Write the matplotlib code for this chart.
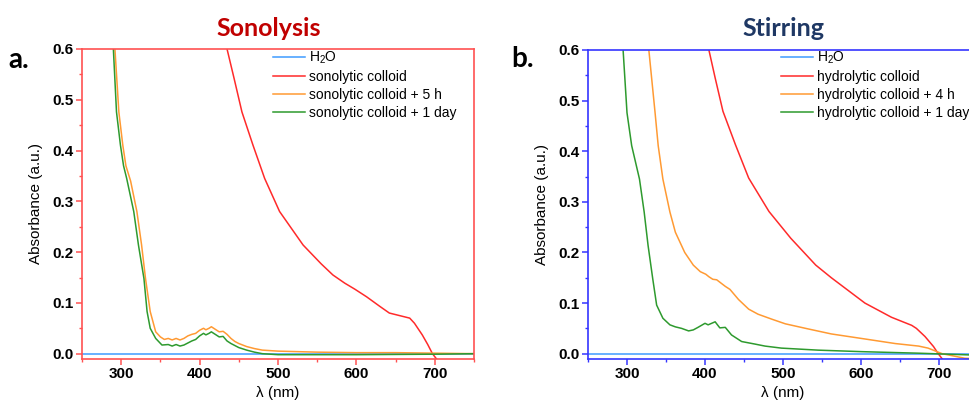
import matplotlib
matplotlib.use("Agg")
import matplotlib.pyplot as plt
from matplotlib.ticker import MultipleLocator

plt.rcParams['font.family'] = ['Liberation Sans', 'DejaVu Sans']
plt.rcParams['mathtext.fontset'] = 'custom'
plt.rcParams['mathtext.rm'] = 'Liberation Sans'

# ---- panel a: sonolysis ----
h2o_a_wl = [250, 300, 350, 400, 450, 500, 550, 600, 650, 700, 750]
h2o_a_abs = [-0.001, -0.001, -0.001, -0.001, -0.001, -0.001, -0.001, -0.001, -0.001, -0.001, -0.001]

sono_wl = [431, 435, 444, 454, 468, 483, 502, 532, 555, 570, 585, 598, 613,
           630, 642, 655, 668, 674, 684, 691, 697, 702]
sono_abs = [0.64, 0.6, 0.542, 0.476, 0.411, 0.345, 0.28, 0.214, 0.177, 0.155, 0.139, 0.127, 0.112,
            0.093, 0.08, 0.075, 0.07, 0.06, 0.037, 0.018, 0.0, -0.01]

sono5h_wl = [291, 292, 297, 302, 306, 312, 320, 326, 331, 337, 344, 350, 355,
             360, 365, 370, 375, 380, 385, 390, 395, 400, 405, 408, 412, 415, 420, 425,
             430, 435, 440, 445, 450, 460, 470, 480, 500, 550, 600, 650, 700, 750]
sono5h_abs = [0.65, 0.6, 0.476, 0.411, 0.37, 0.34, 0.28, 0.214, 0.148, 0.083, 0.043, 0.033, 0.028,
              0.03, 0.027, 0.03, 0.027, 0.03, 0.035, 0.038, 0.04, 0.046, 0.05, 0.047, 0.05, 0.053, 0.048, 0.043,
              0.044, 0.038, 0.03, 0.024, 0.02, 0.014, 0.01, 0.007, 0.005, 0.003, 0.002, 0.002, 0.001, 0.0]

sono1d_wl = [289, 290, 294, 299, 303, 307, 316, 322, 329, 333, 337, 344, 352, 360, 365,
             370, 375, 380, 390, 395, 400, 405, 408, 412, 415, 420, 425, 430, 435, 440,
             450, 460, 470, 480, 500, 600, 700, 750]
sono1d_abs = [0.65, 0.6, 0.476, 0.411, 0.37, 0.345, 0.28, 0.214, 0.148, 0.083, 0.05, 0.03, 0.017, 0.018, 0.015,
              0.018, 0.015, 0.017, 0.025, 0.028, 0.035, 0.04, 0.037, 0.04, 0.043, 0.038, 0.033, 0.034, 0.025, 0.02,
              0.012, 0.007, 0.003, 0.0, -0.002, -0.002, -0.001, 0.0]

# ---- panel b: stirring ----
h2o_b_wl = [250, 300, 350, 400, 450, 500, 550, 600, 650, 700, 750]
h2o_b_abs = [-0.001, -0.001, -0.001, -0.001, -0.001, -0.001, -0.001, -0.001, -0.001, -0.001, -0.001]

hydro_wl = [402, 405, 413, 423, 439, 456, 482, 510, 542, 562, 605, 639, 665, 671, 682, 693, 699, 704]
hydro_abs = [0.63, 0.6, 0.545, 0.479, 0.413, 0.347, 0.281, 0.228, 0.175, 0.15, 0.1, 0.072, 0.056, 0.05,
             0.034, 0.014, 0.0, -0.01]

hydro4h_wl = [326, 328, 336, 340, 346, 355, 362, 374, 385, 394, 401, 405, 410, 415, 426, 432,
              443, 456, 468, 486, 503, 532, 562, 601, 644, 674, 686, 704, 733, 750]
hydro4h_abs = [0.63, 0.6, 0.476, 0.411, 0.345, 0.28, 0.24, 0.2, 0.175, 0.162, 0.157, 0.152, 0.147, 0.146,
               0.133, 0.127, 0.107, 0.088, 0.078, 0.068, 0.059, 0.049, 0.039, 0.03, 0.02, 0.015, 0.011, 0.0,
               -0.009, -0.01]

hydro1d_wl = [293, 295, 300, 306, 316, 322, 327, 333, 338, 346, 355, 362, 370, 379, 385,
              391, 400, 404, 413, 419, 426, 434, 447, 464, 477, 498, 545, 601, 673, 750]
hydro1d_abs = [0.63, 0.6, 0.476, 0.411, 0.345, 0.28, 0.214, 0.148, 0.096, 0.07, 0.057, 0.053, 0.05, 0.045,
               0.047, 0.052, 0.06, 0.057, 0.063, 0.051, 0.052, 0.037, 0.024, 0.019, 0.015, 0.011, 0.007,
               0.004, 0.001, -0.003]

c_blue = '#3f9bff'
c_red = '#ff2a2a'
c_orange = '#ff9a33'
c_green = '#2e9a2e'

W, H = 969, 401
fig = plt.figure(figsize=(W / 100, H / 100), dpi=100)


def px_rect(left, top, right, bottom):
    return [left / W, 1 - bottom / H, (right - left) / W, (bottom - top) / H]


def style_axes(ax, frame_color):
    ax.set_xlim(250, 750)
    ax.set_ylim(-0.0105, 0.6)
    ax.xaxis.set_minor_locator(MultipleLocator(50))
    ax.yaxis.set_minor_locator(MultipleLocator(0.05))
    ax.set_yticks([0.0, 0.1, 0.2, 0.3, 0.4, 0.5, 0.6])
    ax.set_yticklabels(['0.0', '0.1', '0.2', '0.3', '0.4', '0.5', '0.6'])
    ax.set_xticks([300, 400, 500, 600, 700])
    for s in ax.spines.values():
        s.set_color(frame_color)
        s.set_linewidth(1.2)
    ax.tick_params(which='both', direction='out', color=frame_color, labelsize=11,
                   top=False, right=False)
    ax.tick_params(which='major', length=4, width=1.1, pad=2)
    ax.tick_params(which='minor', length=2.5, width=1.0)
    for lab in ax.get_xticklabels() + ax.get_yticklabels():
        lab.set_fontweight('bold')
    ax.set_xlabel('λ (nm)', fontsize=11, labelpad=3)
    ax.set_ylabel('Absorbance (a.u.)', fontsize=11, labelpad=7)


lw = 1.1

# panel a
ax1 = fig.add_axes(px_rect(82, 49, 474, 359))
ax1.plot(h2o_a_wl, h2o_a_abs, color=c_blue, lw=lw, label='H$_2$O')
ax1.plot(sono_wl, sono_abs, color=c_red, lw=lw, label='sonolytic colloid')
ax1.plot(sono5h_wl, sono5h_abs, color=c_orange, lw=lw, label='sonolytic colloid + 5 h')
ax1.plot(sono1d_wl, sono1d_abs, color=c_green, lw=lw, label='sonolytic colloid + 1 day')
style_axes(ax1, '#ff5252')
ax1.legend(loc='upper left', bbox_to_anchor=(273 / W, 1 - 50 / H), bbox_transform=fig.transFigure,
           frameon=False, fontsize=10, handlelength=2.3, handletextpad=0.3,
           labelspacing=0.28, borderpad=0, borderaxespad=0)

# panel b (right spine sits just past the picture edge, as in the reference)
ax2 = fig.add_axes(px_rect(588, 50, 978, 359))
ax2.plot(h2o_b_wl, h2o_b_abs, color=c_blue, lw=lw, label='H$_2$O')
ax2.plot(hydro_wl, hydro_abs, color=c_red, lw=lw, label='hydrolytic colloid')
ax2.plot(hydro4h_wl, hydro4h_abs, color=c_orange, lw=lw, label='hydrolytic colloid + 4 h')
ax2.plot(hydro1d_wl, hydro1d_abs, color=c_green, lw=lw, label='hydrolytic colloid + 1 day')
style_axes(ax2, '#3535ff')
ax2.legend(loc='upper left', bbox_to_anchor=(781 / W, 1 - 50 / H), bbox_transform=fig.transFigure,
           frameon=False, fontsize=10, handlelength=2.3, handletextpad=0.3,
           labelspacing=0.28, borderpad=0, borderaxespad=0)

# titles and panel letters
fig.text(269 / W, 1 - 28 / H, 'Sonolysis', color='#c00000', fontsize=18, fontweight='bold',
         family='Lato', ha='center', va='center')
fig.text(783 / W, 1 - 28 / H, 'Stirring', color='#1f3864', fontsize=18, fontweight='bold',
         family='Lato', ha='center', va='center')
fig.text(8 / W, 1 - 60 / H, 'a.', fontsize=20, fontweight='bold', family='Lato',
         ha='left', va='center')
fig.text(511 / W, 1 - 59 / H, 'b.', fontsize=20, fontweight='bold', family='Lato',
         ha='left', va='center')

fig.savefig('out.png', dpi=100)
